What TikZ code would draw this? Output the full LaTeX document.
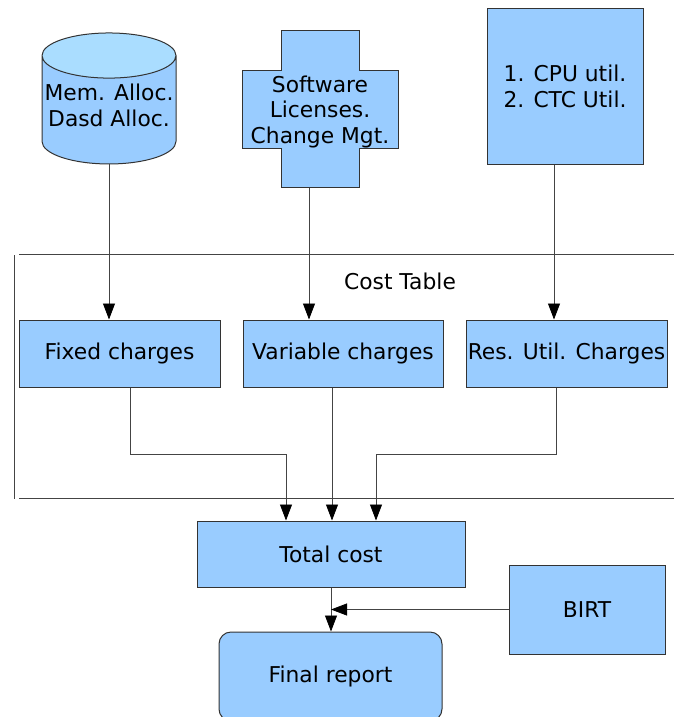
\documentclass[tikz,border=0pt]{standalone}
\usepackage{fontspec}
\setmainfont{DejaVu Sans}
\usetikzlibrary{arrows.meta, positioning, shapes.geometric}
\definecolor{boxblue}{HTML}{99CCFF}
\definecolor{capblue}{HTML}{AADDFF}
\definecolor{edgegray}{HTML}{333333}
\definecolor{linegray}{HTML}{444444}

\begin{document}
\begin{tikzpicture}[x=1pt,y=-1pt,->,>={Triangle[length=16pt,width=12pt,color=black]},
  line width=1pt,font=\fontsize{21.8}{25.5}\selectfont,
  box node/.style={rectangle,draw=edgegray,fill=boxblue,minimum width=200pt,
    minimum height=67pt,inner sep=0pt,align=center},
  db node/.style={cylinder,shape border rotate=90,draw=edgegray,aspect=0.35,
    cylinder uses custom fill,cylinder body fill=boxblue,cylinder end fill=capblue,
    minimum width=134pt,minimum height=131pt,inner sep=0pt,align=center},
  conn/.style={draw=linegray,line width=0.8pt},
  rule line/.style={-,draw=linegray,line width=1pt}]
  \useasboundingbox (0,0) rectangle (674,717);
  \clip (0,0) rectangle (674,717);

  % sources
  \node[db node] (mem) at (109,110)
    {\raisebox{0pt}[\height][\dimexpr\depth+3pt\relax]{\begin{tabular}{@{}c@{}}Mem. Alloc.\\Dasd Alloc.\end{tabular}}};
  \filldraw[-,draw=edgegray,fill=boxblue] (281,31) -- (359,31) -- (359,70) -- (398,70)
    -- (398,148) -- (359,148) -- (359,187) -- (281,187) -- (281,148) -- (242,148)
    -- (242,70) -- (281,70) -- cycle;
  \node[align=center,minimum width=78pt,minimum height=156pt,inner sep=0pt] (soft)
    at (320,109) {\raisebox{0pt}[\dimexpr\height+7pt\relax][\depth]{\begin{tabular}{@{}c@{}}Software\\Licenses.\\Change Mgt.\end{tabular}}};
  \node[box node,minimum width=156pt,minimum height=155pt] (util) at (565,86.5)
    {1. CPU util.\\2. CTC Util.};

  % cost table
  \draw[rule line] (19,254) -- (674,254);
  \draw[rule line] (14,255) -- (14,499);
  \draw[rule line] (19,498) -- (674,498);
  \node (costlabel) at (400,281) {Cost Table};
  \node[box node,minimum width=201pt] (fixed) at (119.5,353.5) {Fixed charges};
  \node[box node] (var) [right=22pt of fixed] {Variable charges};
  \node[box node,minimum width=201pt] (res) [right=22pt of var] {Res. Util. Charges};

  % results
  \node[box node,minimum width=268pt,minimum height=66pt] (total) at (331,554) {Total cost};
  \node[box node,minimum width=156pt,minimum height=89pt] (birt) at (587,609.5) {BIRT};
  \node[box node,rounded corners=12pt,minimum width=223pt,minimum height=89pt] (final)
    at (330.5,676.5) {Final report};

  \draw[conn] (mem.south) -- (mem.south |- fixed.north);
  \draw[conn] ([xshift=-11pt]soft.south) -- ([xshift=-11pt]soft.south |- var.north);
  \draw[conn] ([xshift=-11pt]util.south) -- ([xshift=-11pt]util.south |- res.north);
  \draw[conn] ([xshift=10.5pt]fixed.south) -- ++(0,67) -| ([xshift=-45pt]total.north);
  \draw[conn] ([xshift=-11pt]var.south) -- ([xshift=-11pt]var.south |- total.north);
  \draw[conn] ([xshift=-10.5pt]res.south) -- ++(0,67) -| ([xshift=45pt]total.north);
  \draw[conn] (total.south) -- (total.south |- final.north);
  \draw[conn] (birt.west) -- (birt.west -| total.south);
\end{tikzpicture}
\end{document}
